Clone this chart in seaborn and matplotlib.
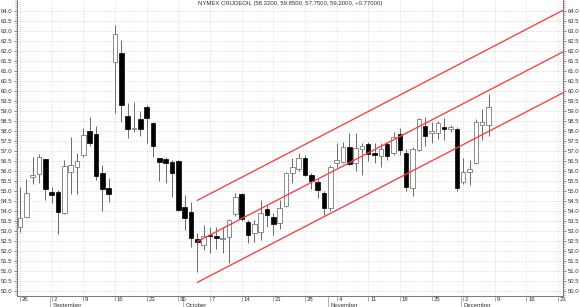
import numpy as np
import pandas as pd
import matplotlib
matplotlib.use("Agg")
import matplotlib.pyplot as plt
import seaborn as sns
from matplotlib.transforms import blended_transform_factory
from matplotlib.ticker import MultipleLocator, FormatStrFormatter, FixedLocator

# ---------------- data ----------------
title_text = "NYMEX CRUDEOIL (58.3200, 59.8500, 57.7500, 59.2000, +0.77000)"
dates = pd.bdate_range("2019-08-26", "2019-12-06")

opens = [53.22, 53.72, 55.72, 55.85, 56.58, 54.95, 54.95, 53.88, 55.93, 56.18,
         56.78, 57.98, 57.85, 55.88, 55.13, 61.45, 61.88, 58.75, 58.12, 58.60,
         59.18, 58.38, 56.63, 56.60, 56.47, 56.50, 54.22, 53.97, 52.60, 52.30,
         52.80, 52.77, 52.58, 52.68, 53.85, 54.85, 53.47, 52.92, 52.97, 54.08,
         53.68, 53.38, 54.25, 55.88, 56.08, 56.63, 55.80, 55.47, 54.88, 54.13,
         56.42, 56.47, 57.22, 56.38, 57.08, 57.35, 56.88, 56.75, 57.33, 56.88,
         57.85, 56.88, 55.17, 57.05, 58.27, 57.92, 57.92, 58.22, 58.10, 58.10,
         55.47, 55.95, 56.40, 58.30, 58.32]
highs = [55.20, 55.60, 56.72, 56.85, 56.62, 55.22, 55.05, 56.55, 57.72, 56.92,
         58.13, 58.72, 58.25, 56.30, 55.63, 63.30, 62.55, 59.38, 59.47, 59.00,
         59.30, 58.45, 56.65, 56.72, 56.55, 56.55, 54.80, 54.47, 52.88, 53.30,
         53.22, 53.22, 53.20, 53.60, 54.92, 54.92, 53.55, 53.55, 54.55, 54.30,
         53.88, 54.55, 55.95, 56.63, 56.90, 56.80, 55.90, 55.60, 55.00, 56.30,
         57.38, 57.47, 57.92, 57.88, 57.40, 57.47, 57.40, 57.38, 57.47, 57.97,
         58.13, 57.08, 57.20, 58.65, 58.72, 58.47, 58.50, 58.63, 58.30, 58.20,
         56.65, 56.55, 58.60, 59.10, 59.85]
lows = [52.97, 53.70, 55.35, 55.38, 54.55, 54.38, 52.85, 53.85, 54.85, 54.83,
        56.70, 57.25, 55.55, 54.02, 54.47, 58.90, 58.47, 57.67, 57.97, 57.75,
        57.38, 56.72, 55.52, 55.42, 54.72, 54.00, 53.05, 52.22, 50.97, 52.05,
        51.90, 52.10, 51.90, 51.40, 53.75, 53.50, 52.38, 52.47, 52.55, 53.22,
        52.80, 53.08, 54.20, 55.38, 56.00, 55.75, 55.10, 54.63, 53.80, 54.00,
        56.18, 56.40, 56.30, 56.00, 55.80, 56.50, 56.38, 56.18, 56.55, 56.80,
        56.80, 55.02, 54.75, 57.00, 57.25, 57.38, 57.60, 57.55, 57.95, 55.02,
        55.35, 55.30, 56.35, 57.55, 57.75]
closes = [53.63, 54.92, 55.78, 56.68, 55.10, 54.78, 53.97, 56.25, 56.28, 56.48,
          57.82, 57.38, 55.77, 55.08, 54.85, 62.85, 59.30, 58.10, 58.15, 58.10,
          58.63, 57.27, 56.47, 56.40, 55.92, 54.05, 53.63, 52.63, 52.45, 52.77,
          52.75, 52.63, 52.63, 53.55, 54.68, 53.58, 52.80, 53.33, 53.92, 53.80,
          53.33, 54.13, 55.92, 56.22, 56.63, 55.80, 55.52, 55.05, 54.15, 56.20,
          56.55, 57.22, 56.35, 57.15, 57.24, 56.86, 56.80, 57.12, 56.77, 57.72,
          57.05, 55.21, 57.11, 58.58, 57.77, 58.01, 58.41, 58.11, 58.20, 55.17,
          55.96, 56.10, 58.43, 58.43, 59.20]

week_tick_labels = ["26", "2", "9", "16", "23", "30", "7", "14", "21", "28",
                    "4", "11", "18", "25", "2", "9", "16", "23"]
month_labels = ["September", "October", "November", "December"]
month_start_dates = ["2019-09-02", "2019-10-01", "2019-11-01", "2019-12-02"]
price_ticks = [50.0, 50.5, 51.0, 51.5, 52.0, 52.5, 53.0, 53.5, 54.0, 54.5,
               55.0, 55.5, 56.0, 56.5, 57.0, 57.5, 58.0, 58.5, 59.0, 59.5,
               60.0, 60.5, 61.0, 61.5, 62.0, 62.5, 63.0, 63.5, 64.0]

# trend channel drawn on the chart (start / end)
channel_x = [28, 85.72]
channel_upper = [54.53, 64.03]
channel_middle = [52.47, 61.95]
channel_lower = [50.43, 59.90]

# ---------------- figure ----------------
sns.set_theme(style="white")
plt.rcParams["font.family"] = ["Liberation Sans", "DejaVu Sans"]

df = pd.DataFrame({"date": dates, "open": opens, "high": highs,
                   "low": lows, "close": closes})
df["idx"] = np.arange(len(df))

fig = plt.figure(figsize=(5.8, 3.07), dpi=100)
ax = fig.add_axes([17.3 / 580, 11 / 307, 545.4 / 580, 296 / 307])
ax.set_facecolor("white")

up = df["close"] >= df["open"]
# wicks
ax.vlines(df["idx"], df["low"], df["high"], color="#6a6a6a", lw=0.7, zorder=2)
# bodies
body_bottom = np.minimum(df["open"], df["close"])
body_height = np.maximum(np.abs(df["close"] - df["open"]), 0.04)
ax.bar(df.loc[up, "idx"], body_height[up], bottom=body_bottom[up], width=0.72,
       color="white", edgecolor="#7a7a7a", linewidth=0.6, zorder=3)
ax.bar(df.loc[~up, "idx"], body_height[~up], bottom=body_bottom[~up], width=0.72,
       color="black", edgecolor="black", linewidth=0.5, zorder=3)

# channel lines
for yvals in (channel_upper, channel_middle, channel_lower):
    sns.lineplot(x=channel_x, y=yvals, ax=ax, color="#ff3b3b", lw=0.95,
                 zorder=4, estimator=None)

# axes
ax.set_xlim(-0.43, 85.72)
ax.set_ylim(49.75, 64.55)
week_pos = np.arange(0, 5 * len(week_tick_labels), 5)
ax.set_xticks(week_pos)
ax.set_xticklabels([])
ax.yaxis.set_major_locator(FixedLocator(price_ticks))
ax.yaxis.set_minor_locator(MultipleLocator(0.1))
ax.yaxis.set_major_formatter(FormatStrFormatter("%.1f"))
ax.tick_params(axis="y", which="major", labelsize=4.3, labelcolor="#333333",
               left=True, right=True, labelleft=True, labelright=True,
               length=2.2, width=0.5, color="#555555", pad=1.2)
ax.tick_params(axis="y", which="minor", left=True, right=True, length=1.2,
               width=0.4, color="#777777")
ax.tick_params(axis="x", which="major", bottom=True, length=3.5, width=0.5,
               color="#888888", direction="out")
ax.grid(True, axis="both", which="major", color="#d4d4d4", lw=0.6,
        linestyle=(0, (1, 1.5)))
ax.set_axisbelow(True)
for side in ["left", "right", "bottom"]:
    ax.spines[side].set_color("#777777")
    ax.spines[side].set_linewidth(0.7)
ax.spines["top"].set_visible(False)
ax.set_xlabel("")
ax.set_ylabel("")

trans = blended_transform_factory(ax.transData, ax.transAxes)
for pos, lab in zip(week_pos, week_tick_labels):
    ax.text(pos + 0.3, -0.004, lab, transform=trans, ha="left", va="top",
            fontsize=4.3, color="#333333", clip_on=False)

date_index = {d.strftime("%Y-%m-%d"): i for i, d in enumerate(df["date"])}
for lab, d in zip(month_labels, month_start_dates):
    pos = date_index[d]
    ax.plot([pos - 0.3, pos - 0.3], [0, -0.06], transform=trans,
            color="#999999", lw=0.5, clip_on=False)
    ax.text(pos + 0.1, -0.024, lab, transform=trans, ha="left", va="top",
            fontsize=4.3, color="#333333", clip_on=False)

ax.text(0.5, 0.988, title_text, transform=ax.transAxes, ha="center",
        va="center", fontsize=4.3, color="#333333")

fig.savefig("out.png", dpi=100)
